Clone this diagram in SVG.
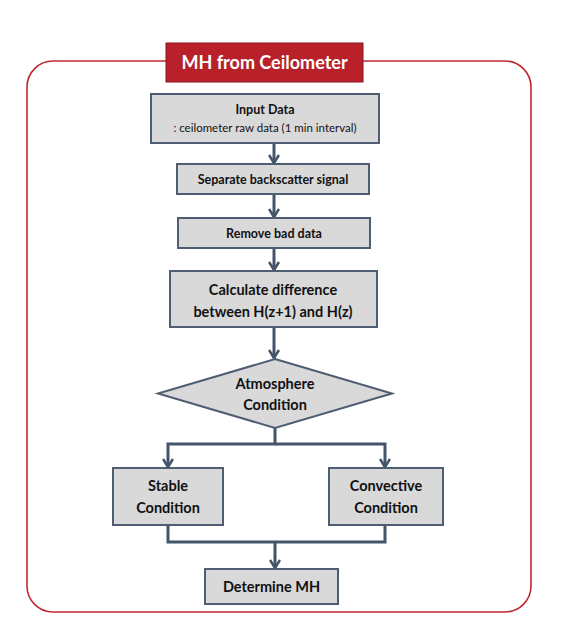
<svg xmlns="http://www.w3.org/2000/svg" width="575" height="620" viewBox="0 0 575 620">
<defs>
<marker id="ah" viewBox="0 0 12 12" refX="10" refY="6" markerWidth="12" markerHeight="12" markerUnits="userSpaceOnUse" orient="auto">
<polyline points="2,1 10,6 2,11" fill="none" stroke="#44546a" stroke-width="2.6"/>
</marker>
<style>
.box{fill:#d9d9d9;stroke:#4f5d73;stroke-width:2}
.t{font-family:Lato,"Open Sans","Liberation Sans",sans-serif;font-weight:bold;fill:#111;text-anchor:middle}
.c{fill:none;stroke:#44546a;stroke-width:3}
</style>
</defs>
<rect width="575" height="620" fill="#fff"/>
<rect x="27" y="61" width="504" height="551" rx="26" fill="none" stroke="#c0282e" stroke-width="1.6"/>
<g id="title">
<rect x="166" y="43" width="197" height="39" fill="#b8202a" stroke="#8a1520" stroke-width="1"/>
<text x="264.5" y="69" class="t" style="fill:#fff;font-size:18px">MH from Ceilometer</text>
</g>
<g id="connectors">
<line x1="274" y1="143" x2="274" y2="163" class="c" marker-end="url(#ah)"/>
<line x1="274" y1="194" x2="274" y2="217" class="c" marker-end="url(#ah)"/>
<line x1="274" y1="248" x2="274" y2="270" class="c" marker-end="url(#ah)"/>
<line x1="274" y1="327" x2="274" y2="358" class="c" marker-end="url(#ah)"/>
<polyline points="275,428 275,444 168,444 168,467" class="c" marker-end="url(#ah)"/>
<polyline points="275,444 385,444 385,467" class="c" marker-end="url(#ah)"/>
<polyline points="168,525 168,542 385,542 385,525" class="c"/>
<line x1="275" y1="542" x2="275" y2="568" class="c" marker-end="url(#ah)"/>
</g>
<g id="input">
<rect x="151" y="94" width="228" height="49" class="box"/>
<text x="265" y="114" class="t" style="font-size:12.5px">Input Data</text>
<text x="265" y="132" class="t" style="font-size:11.5px;font-weight:normal">: ceilometer raw data (1 min interval)</text>
</g>
<g id="separate">
<rect x="177" y="164" width="192" height="30" class="box"/>
<text x="273" y="184" class="t" style="font-size:12.5px">Separate backscatter signal</text>
</g>
<g id="remove">
<rect x="178" y="218" width="192" height="30" class="box"/>
<text x="274" y="238" class="t" style="font-size:12.5px">Remove bad data</text>
</g>
<g id="calculate">
<rect x="170" y="271" width="207" height="56" class="box"/>
<text x="273" y="295" class="t" style="font-size:14.5px">Calculate difference</text>
<text x="273" y="317" class="t" style="font-size:14.5px">between H(z+1) and H(z)</text>
</g>
<g id="atmosphere">
<polygon points="275,359 392,393.5 275,428 158,393.5" class="box"/>
<text x="275" y="389" class="t" style="font-size:14.5px">Atmosphere</text>
<text x="275" y="410" class="t" style="font-size:14.5px">Condition</text>
</g>
<g id="stable">
<rect x="113" y="468" width="110" height="57" class="box"/>
<text x="168" y="491" class="t" style="font-size:14.5px">Stable</text>
<text x="168" y="513" class="t" style="font-size:14.5px">Condition</text>
</g>
<g id="convective">
<rect x="329" y="468" width="114" height="57" class="box"/>
<text x="386" y="491" class="t" style="font-size:14.5px">Convective</text>
<text x="386" y="513" class="t" style="font-size:14.5px">Condition</text>
</g>
<g id="determine">
<rect x="205" y="569" width="133" height="35" class="box"/>
<text x="271.5" y="592" class="t" style="font-size:14.5px">Determine MH</text>
</g>
</svg>
